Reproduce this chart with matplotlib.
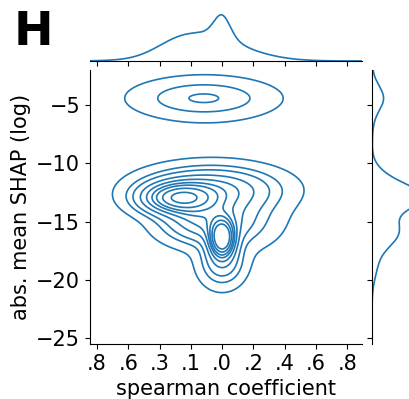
import numpy as np
import matplotlib
matplotlib.use("Agg")
import matplotlib.pyplot as plt

# mixture components: (x centre, y centre, x spread, y spread, weight)
comp_x = [-0.12, -0.10, -0.28, -0.07, -0.12, 0.00, 0.00, 0.10]
comp_y = [-4.4, -4.7, -13.0, -12.2, -15.0, -16.4, -18.5, -14.8]
comp_sx = [0.27, 0.30, 0.15, 0.26, 0.17, 0.05, 0.09, 0.19]
comp_sy = [1.00, 1.70, 0.85, 1.20, 1.20, 1.00, 1.30, 1.70]
comp_w = [0.085, 0.035, 0.20, 0.27, 0.15, 0.12, 0.06, 0.08]

xtick_vals = [-0.8, -0.6, -0.4, -0.2, 0.0, 0.2, 0.4, 0.6, 0.8]
xtick_labels = [".8", ".6", ".3", ".1", ".0", ".2", ".4", ".6", ".8"]
ytick_vals = [-5, -10, -15, -20, -25]

xlim = (-0.845, 0.895)
ylim = (-25.5, -2.0)
color = "#1f77b4"


def gauss(v, m, s):
    return np.exp(-0.5 * ((v - m) / s) ** 2) / (s * np.sqrt(2 * np.pi))


gx = np.linspace(xlim[0], xlim[1], 400)
gy = np.linspace(ylim[0], ylim[1], 400)
X, Y = np.meshgrid(gx, gy)
Z = np.zeros_like(X)
for mx, my, sx, sy, w in zip(comp_x, comp_y, comp_sx, comp_sy, comp_w):
    Z += w * gauss(X, mx, sx) * gauss(Y, my, sy)

# same iso-proportion levels seaborn uses (thresh=0.05, 10 levels)
isoprop = np.linspace(0.05, 1, 10)
vals = np.sort(Z.ravel())[::-1]
cum = np.cumsum(vals) / vals.sum()
levels = np.take(vals, np.searchsorted(cum, 1 - isoprop), mode="clip")
levels = np.unique(levels)[:-1]

marg_x = sum(w * gauss(gx, mx, sx) for mx, sx, w in zip(comp_x, comp_sx, comp_w))
marg_y = sum(w * gauss(gy, my, sy) for my, sy, w in zip(comp_y, comp_sy, comp_w))

fig = plt.figure(figsize=(4.1, 3.99), dpi=100)
W, H = 410, 399
ax = fig.add_axes([90 / W, 55 / H, 272 / W, 274 / H])
ax_top = fig.add_axes([90 / W, 338 / H, 272 / W, 55 / H], sharex=ax)
ax_right = fig.add_axes([372 / W, 55 / H, 55 / W, 274 / H], sharey=ax)

ax.contour(X, Y, Z, levels=levels, colors=color, linewidths=1.2)
ax.set_xlim(*xlim)
ax.set_ylim(*ylim)
ax.set_xticks(xtick_vals)
ax.set_xticklabels(xtick_labels)
ax.set_yticks(ytick_vals)
ax.tick_params(labelsize=15)
ax.set_xlabel("spearman coefficient", fontsize=15)
ax.set_ylabel("abs. mean SHAP (log)", fontsize=15)
for s in ["top", "right"]:
    ax.spines[s].set_visible(False)

ax_top.plot(gx, marg_x, color=color, lw=1.2)
ax_top.set_ylim(0, marg_x.max() * 1.19)
ax_top.tick_params(labelbottom=False, left=False, labelleft=False)
for s in ["top", "right", "left"]:
    ax_top.spines[s].set_visible(False)

ax_right.plot(marg_y, gy, color=color, lw=1.2)
ax_right.set_xlim(0, marg_y.max() * 1.05)
ax_right.tick_params(labelleft=False, bottom=False, labelbottom=False)
for s in ["top", "right", "bottom"]:
    ax_right.spines[s].set_visible(False)

fig.text(14 / W, 1 - 45 / H, "H", fontsize=34, fontweight="bold", va="baseline")

fig.savefig("out.png", dpi=100)
